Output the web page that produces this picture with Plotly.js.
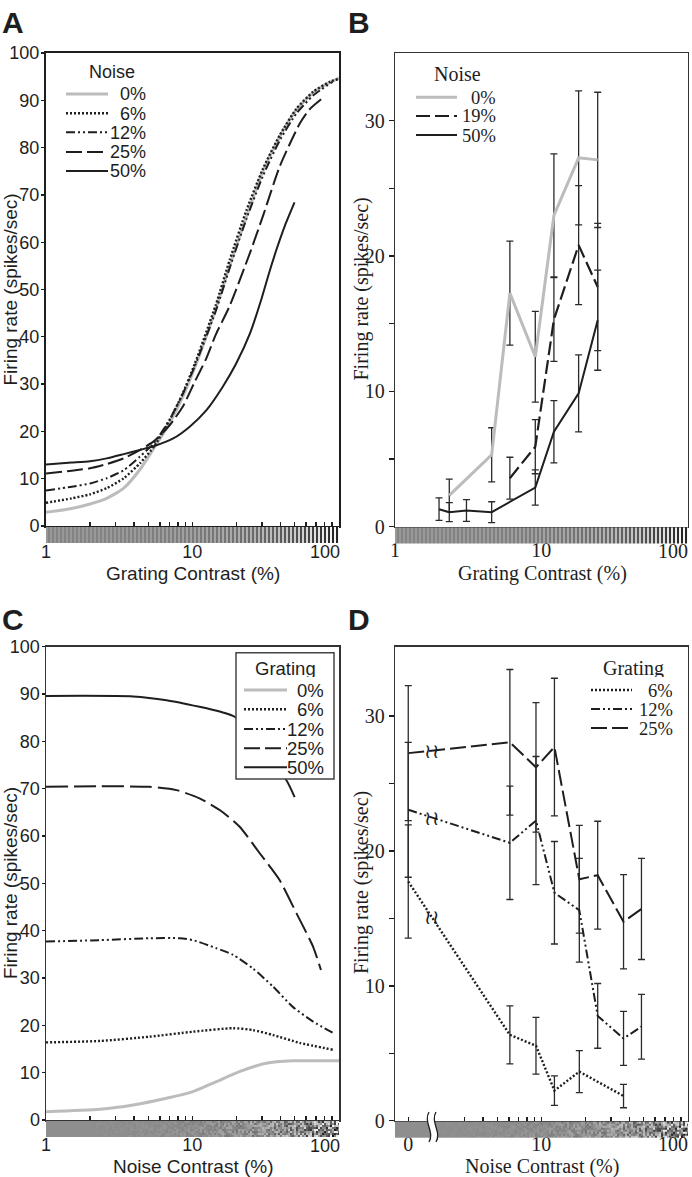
<!DOCTYPE html>
<html><head><meta charset="utf-8">
<script src="https://cdn.plot.ly/plotly-3.0.1.min.js"></script>
<style>html,body{margin:0;padding:0;background:#fff}#chart{width:692px;height:1177px}</style>
</head><body><div id="chart"></div>
<script>
// ---------- Panel A: model fits, firing rate vs grating contrast, per noise level ----------
const aX0  = [1,1.5,2,2.6,3.4,4.4,5.5,7,8.6,10.4,14.5,18,23.5,30.4,39.6,51.5,67,87,101];
const aY0  = [2.9,3.7,4.65,5.85,8.0,12.0,16.6,21.8,27.3,33.5,46,55,65.5,75,82.3,88,91.6,93.8,94.7];
const aX6  = [1,1.5,2,2.6,3.4,4.4,5.5,7,8.6,10.4,14.5,18,23.5,30.4,39.6,51.5,67,87,100];
const aY6  = [4.9,5.85,6.7,8.0,10.1,13.3,16.9,22.4,28.0,34.3,46.8,56.2,66.8,75.5,82.6,88.2,91.8,93.9,94.5];
const aX12 = [1,1.5,2,2.6,3.4,4.4,5.5,7,8.6,10.4,14.5,18,23.5,30.4,39.6,51.5,67,91];
const aY12 = [7.5,8.3,9.0,10.1,11.8,14.7,17.6,22.5,27.9,33.8,45.5,54.5,65,74,81.5,87.2,91,93.9];
const aX25 = [1,1.5,2,2.6,3.4,4.4,5.5,7,8.6,10.4,12.5,14.5,18,24.7,30.4,39.6,54.3,63,76];
const aY25 = [11.1,11.7,12.2,13.1,14.3,16.1,18.0,21.3,25.2,30.5,35.5,40.5,46.5,57.6,65.5,76,85.1,88,90.2];
const aX50 = [1,1.5,2,2.6,3.4,4.4,5.5,7.4,9.6,12.5,16.2,20,24.8,29.7,33.5,37.7,43,50];
const aY50 = [13.0,13.4,13.7,14.3,15.2,16.1,16.9,18.5,21.0,24.5,29.5,34.4,40.7,48,53.5,58.5,63.5,68.4];
const aLegend = ['0%','6%','12%','25%','50%'];

// ---------- Panel B: measured responses vs grating contrast ----------
const bX0  = [2.35,4.58,6.1,9.1,12.2,18.0,24.3];
const bY0  = [2.3,5.3,17.25,12.55,23.0,27.25,27.1];
const bE0  = [1.2,2.0,3.85,3.35,4.55,4.95,5.0];
const bX19 = [6.1,9.1,12.2,18.0,24.3];
const bY19 = [3.57,5.9,15.3,20.8,17.7];
const bE19 = [1.55,2.0,3.1,4.4,4.7];
const bX50 = [2.0,2.35,3.08,4.58,9.1,12.2,18.0,24.3];
const bY50 = [1.28,1.06,1.18,1.06,2.88,7.0,9.84,15.25];
const bE50 = [0.83,0.7,0.8,0.77,1.3,2.3,2.85,3.7];
const bLegend = ['0%','19%','50%'];

// ---------- Panel C: model fits, firing rate vs noise contrast, per grating level ----------
const cX0  = [1,2.34,3.94,6.67,10.1,14.6,21,32,48.7,101];
const cY0  = [1.76,2.26,3.17,4.58,5.98,8.1,10.2,12.0,12.5,12.5];
const cX6  = [1,2.34,5.1,10.1,19,26,35.6,54.2,93];
const cY6  = [16.4,16.7,17.6,18.65,19.4,19.0,17.95,16.3,14.8];
const cX12 = [1,2.34,5.1,8.2,10.1,14.6,19,26,35.6,48.7,67,93];
const cY12 = [37.7,38.0,38.4,38.4,38.0,36.3,34.9,32.0,28.2,23.9,20.8,18.3];
const cX25 = [1,2.34,5.1,7.8,11.2,15.4,21,29,39.5,51.5,67,75.8];
const cY25 = [70.4,70.5,70.4,69.7,67.95,65.5,62,56.3,50.7,43.7,36.6,31.7];
const cX50 = [1,3.94,6.67,11.2,15.4,19.5,44,50.1];
const cY50 = [89.6,89.5,88.7,87.3,86.3,85.2,71.8,68.2];
const cLegend = ['0%','6%','12%','25%','50%'];

// ---------- Panel D: measured responses vs noise contrast ----------
const dNoise   = [0,6.1,9.2,12.3,18.2,24.3,36.5,48.4];
const dY25     = [27.25,28.05,26.2,27.7,17.9,18.2,14.75,15.7];
const dE25     = [5,5.4,4.8,5.1,4,4,3.5,3.75];
const dY12     = [23.05,20.6,22.25,16.9,15.6,7.77,6.1,6.97];
const dE12     = [5,4.2,4.75,3.8,3.85,2.4,2.0,2.4];
const dNoise6  = [0,6.1,9.2,12.3,18.2,36.5];
const dY6      = [17.73,6.36,5.56,2.23,3.64,1.83];
const dE6      = [4.2,2.15,2.1,1.1,1.56,0.87];
const dLegend  = ['6%','12%','25%'];

// tick labels (the "100" label at the right edge is set as an annotation so it is not cut off)
const logTickVals = [1,2,3,4,5,6,7,8,9,10,20,30,40,50,60,70,80,90,100];
const logTickText = logTickVals.map(v => (v===1||v===10) ? String(v) : '');
const edgeLabel = '100';
const yTickVals100 = [0,10,20,30,40,50,60,70,80,90,100];
const yTickVals35 = [0,5,10,15,20,25,30];
const yTickText35 = ['0','','10','','20','','30'];
const zeroPos = 1.232;   // where the "0 %" noise point sits on the broken log axis
const breakPos = 1.79;   // location of the axis break symbol
const dTickVals = [zeroPos,3,4,5,6,7,8,9,10,20,30,40,50,60,70,80,90,100];
const dTickText = dTickVals.map(v => v===zeroPos ? '0' : (v===10) ? String(v) : '');

// ---------- helpers ----------
const W = 692, H = 1177;
const PX = v => v / W;
const PY = v => 1 - v / H;
const SANS = 'Liberation Sans, Arial, sans-serif';
const SERIF = 'Liberation Serif, Times New Roman, serif';
const INK = '#1e1e1e';
const GRAY = '#bcbcbc';

const sty = {
  g0:  {color: GRAY, width: 3, dash: 'solid'},
  dot: {color: INK, width: 2.4, dash: '2px,2px'},
  ddd: {color: INK, width: 2, dash: '9px,3px,2px,3px,2px,3px'},
  ld:  {color: INK, width: 2, dash: '16px,5px'},
  ldC: {color: INK, width: 2, dash: '22px,6px'},
  sol: {color: INK, width: 2, dash: 'solid'},
  dB:  {color: INK, width: 2.2, dash: '14px,5px'}
};

function line(x, y, xa, ya, st, extra) {
  return Object.assign({type: 'scatter', mode: 'lines', x: x, y: y, xaxis: xa, yaxis: ya,
    line: {color: st.color, width: st.width, dash: st.dash, shape: 'spline', smoothing: 0.6},
    hoverinfo: 'skip'}, extra || {});
}
function errLine(x, y, e, xa, ya, st) {
  return {type: 'scatter', mode: 'lines', x: x, y: y, xaxis: xa, yaxis: ya,
    line: {color: st.color, width: st.width, dash: st.dash},
    error_y: {type: 'data', array: e, visible: true, color: '#2a2a2a', thickness: 1.3, width: 3.5},
    hoverinfo: 'skip'};
}

const mapD = arr => arr.map(v => v === 0 ? zeroPos : v);

const traces = [
  line(aX0, aY0, 'x', 'y', sty.g0),
  line(aX6, aY6, 'x', 'y', sty.dot),
  line(aX12, aY12, 'x', 'y', sty.ddd),
  line(aX25, aY25, 'x', 'y', sty.ld),
  line(aX50, aY50, 'x', 'y', sty.sol),

  errLine(bX0, bY0, bE0, 'x2', 'y2', {color: GRAY, width: 3, dash: 'solid'}),
  errLine(bX19, bY19, bE19, 'x2', 'y2', sty.dB),
  errLine(bX50, bY50, bE50, 'x2', 'y2', sty.sol),

  line(cX0, cY0, 'x3', 'y3', sty.g0),
  line(cX6, cY6, 'x3', 'y3', sty.dot),
  line(cX12, cY12, 'x3', 'y3', sty.ddd),
  line(cX25, cY25, 'x3', 'y3', sty.ldC),
  line(cX50, cY50, 'x3', 'y3', sty.sol),

  errLine(mapD(dNoise), dY25, dE25, 'x4', 'y4', sty.ld),
  errLine(mapD(dNoise), dY12, dE12, 'x4', 'y4', sty.ddd),
  errLine(mapD(dNoise6), dY6, dE6, 'x4', 'y4', {color: INK, width: 2.4, dash: '2px,2px'})
];

// panel geometry (pixels)
const G = {
  A: {l: 46, r: 339, t: 53, b: 526},
  B: {l: 395, r: 688, t: 53, b: 526.5},
  C: {l: 46, r: 339, t: 646.7, b: 1120},
  D: {l: 395, r: 688, t: 646.7, b: 1120.7}
};

function xAxis(g, anchor, font, opts) {
  return Object.assign({
    type: 'log', domain: [PX(g.l), PX(g.r)], anchor: anchor,
    showline: true, mirror: true, linecolor: INK, linewidth: 2,
    showgrid: false, zeroline: false, fixedrange: true,
    ticks: 'inside', ticklen: 4, tickwidth: 1.4, tickcolor: INK,
    tickvals: logTickVals, ticktext: logTickText,
    ticklabelstandoff: 8,
    tickfont: {family: font, size: 18, color: INK}
  }, opts || {});
}
function yAxis(g, anchor, font, opts) {
  return Object.assign({
    domain: [PY(g.b), PY(g.t)], anchor: anchor,
    showline: true, mirror: true, linecolor: INK, linewidth: 2,
    showgrid: false, zeroline: false, fixedrange: true,
    ticks: 'outside', ticklen: 3, tickwidth: 1.4, tickcolor: INK,
    ticklabelstandoff: -2,
    tickfont: {family: font, size: 18, color: INK}
  }, opts || {});
}

// ---------- decorative stimulus bars (grating / noise) ----------
function hash(i, j) {
  let h = Math.imul(i, 374761393) + Math.imul(j, 668265263) | 0;
  h = Math.imul(h ^ (h >>> 13), 1274126177);
  h = h ^ (h >>> 16);
  return ((h >>> 0) % 10007) / 10007;
}
function barImage(kind, w, h) {
  const cv = document.createElement('canvas');
  cv.width = w; cv.height = h;
  const ctx = cv.getContext('2d');
  const img = ctx.createImageData(w, h);
  for (let i = 0; i < w; i++) {
    const c = Math.pow(10, 2 * i / w);
    for (let j = 0; j < h; j++) {
      let v;
      if (kind === 'grating') {
        const amp = Math.min(105, 9 + 1.05 * c);
        v = 142 + ((i % 4) < 2 ? amp : -amp);
      } else {
        const amp = c < 2 ? 0 : 135 * (c / 100);
        const r = hash(Math.floor(i / 2), Math.floor(j / 2)) * 2 - 1;
        v = 142 + amp * r;
      }
      v = Math.max(10, Math.min(245, v));
      const k = 4 * (j * w + i);
      img.data[k] = v; img.data[k + 1] = v; img.data[k + 2] = v; img.data[k + 3] = 255;
    }
  }
  ctx.putImageData(img, 0, 0);
  return cv.toDataURL('image/png');
}
function barLayout(g, src) {
  return {source: src, xref: 'paper', yref: 'paper', x: PX(g.l), y: PY(g.b + 1),
    sizex: (g.r - g.l) / W, sizey: 16 / H, xanchor: 'left', yanchor: 'top',
    sizing: 'stretch', layer: 'above'};
}
const images = [
  barLayout(G.A, barImage('grating', 293, 16)),
  barLayout(G.B, barImage('grating', 293, 16)),
  barLayout(G.C, barImage('noise', 293, 16)),
  barLayout(G.D, barImage('noise', 293, 16))
];

// ---------- text & legends ----------
const ann = [];
const shapes = [];
function txt(x, y, s, font, size, extra) {
  ann.push(Object.assign({xref: 'paper', yref: 'paper', x: PX(x), y: PY(y), text: s, showarrow: false,
    xanchor: 'center', yanchor: 'middle', font: {family: font, size: size, color: INK}}, extra || {}));
}
function sample(x0, x1, y, st) {
  shapes.push({type: 'line', xref: 'paper', yref: 'paper', x0: PX(x0), x1: PX(x1), y0: PY(y), y1: PY(y),
    line: {color: st.color, width: st.width, dash: st.dash}, layer: 'above'});
}
const legTxt = {xanchor: 'right', height: 17, borderpad: 0, valign: 'middle'};

// panel letters
txt(0, 22, '<b>A</b>', SANS, 30, {xanchor: 'left'});
txt(346, 22, '<b>B</b>', SANS, 30, {xanchor: 'left'});
txt(0, 619, '<b>C</b>', SANS, 30, {xanchor: 'left'});
txt(346, 619, '<b>D</b>', SANS, 30, {xanchor: 'left'});

// axis titles
txt(10, 289.5, 'Firing rate (spikes/sec)', SANS, 19, {textangle: -90});
txt(193, 573, 'Grating Contrast (%)', SANS, 19);
txt(361, 289.5, 'Firing rate (spikes/sec)', SERIF, 20, {textangle: -90});
txt(542, 573.5, 'Grating Contrast (%)', SERIF, 20);
txt(10, 883, 'Firing rate (spikes/sec)', SANS, 19, {textangle: -90});
txt(193, 1166, 'Noise Contrast (%)', SANS, 19);
txt(361, 883, 'Firing rate (spikes/sec)', SERIF, 20, {textangle: -90});
txt(542, 1166.5, 'Noise Contrast (%)', SERIF, 20);

// right-edge "100" tick labels, aligned to the 100 tick of each log axis
function edge(xa, y, font, size, shift) {
  ann.push({xref: xa, yref: 'paper', x: 2, y: PY(y), text: edgeLabel, showarrow: false,
    xanchor: 'right', yanchor: 'middle', xshift: shift, font: {family: font, size: size, color: INK}});
}
edge('x', 552, SANS, 18, 3);
edge('x2', 550.5, SERIF, 20, 2);
edge('x3', 1146, SANS, 18, 3);
edge('x4', 1143.5, SERIF, 20, 2);

// legend A
txt(112, 72, 'Noise', SANS, 18);
const aRows = [94, 113.3, 132.3, 152, 171];
const aSty = [sty.g0, sty.dot, sty.ddd, sty.ld, sty.sol];
aLegend.forEach((s, i) => { sample(66, 108, aRows[i], aSty[i]); txt(147, aRows[i], s, SANS, 18, legTxt); });

// legend B
txt(457, 74, 'Noise', SERIF, 20, {height: 18, borderpad: 0});
const bRows = [97.3, 116, 135];
const bSty = [sty.g0, sty.dB, sty.sol];
bLegend.forEach((s, i) => { sample(416, 457, bRows[i], bSty[i]); txt(497, bRows[i], s, SERIF, 18.5, legTxt); });

// legend C (boxed, opaque)
shapes.push({type: 'rect', xref: 'paper', yref: 'paper', x0: PX(236), x1: PX(334), y0: PY(779), y1: PY(652.7),
  fillcolor: '#ffffff', line: {color: '#444', width: 1.5}, layer: 'above'});
txt(285, 667.7, 'Grating', SANS, 18.5, {height: 18, borderpad: 0});
const cRows = [690, 709.3, 729, 748.3, 767.3];
const cSty = [sty.g0, sty.dot, sty.ddd, sty.ld, sty.sol];
cLegend.forEach((s, i) => { sample(244, 287, cRows[i], cSty[i]); txt(325, cRows[i], s, SANS, 18.5, legTxt); });

// legend D
txt(633.5, 668, 'Grating', SERIF, 20, {height: 18, borderpad: 0});
const dRows = [690, 709, 728];
const dSty = [sty.dot, sty.ddd, sty.ld];
dLegend.forEach((s, i) => { sample(591, 632, dRows[i], dSty[i]); txt(674, dRows[i], s, SERIF, 18.5, legTxt); });

// axis break on panel D x-axis
const brk = {xref: 'paper', yref: 'paper', xsizemode: 'pixel', ysizemode: 'pixel',
  xanchor: PX(432), yanchor: PY(1127), layer: 'above'};
shapes.push(Object.assign({type: 'path', path: 'M -3 15 C -9 5 3 -5 -3 -15 L 4 -15 C 10 -5 -2 5 4 15 Z',
  fillcolor: '#ffffff', line: {width: 0}}, brk));
shapes.push(Object.assign({type: 'path', path: 'M -3 15 C -9 5 3 -5 -3 -15', line: {color: INK, width: 1.3}}, brk));
shapes.push(Object.assign({type: 'path', path: 'M 4 15 C -2 5 10 -5 4 -15', line: {color: INK, width: 1.3}}, brk));

// break marks on panel D lines (placed on the segment between the 0% point and the first noise point)
function breakMark(noiseArr, yArr) {
  const l0 = Math.log10(zeroPos), l1 = Math.log10(noiseArr[1]), lb = Math.log10(breakPos);
  const t = (lb - l0) / (l1 - l0);
  const y = yArr[0] + t * (yArr[1] - yArr[0]);
  ann.push({xref: 'x4', yref: 'y4', x: lb, y: y, text: '≀≀', showarrow: false,
    font: {family: 'DejaVu Serif, serif', size: 20, color: INK}, xanchor: 'center', yanchor: 'middle'});
}
breakMark(dNoise, dY25);
breakMark(dNoise, dY12);
breakMark(dNoise6, dY6);

const layout = {
  width: W, height: H, margin: {l: 0, r: 0, t: 0, b: 0},
  paper_bgcolor: '#ffffff', plot_bgcolor: '#ffffff', showlegend: false, hovermode: false,
  xaxis: xAxis(G.A, 'y', SANS, {range: [0, 2.003]}),
  yaxis: yAxis(G.A, 'x', SANS, {range: [0, 100], tickvals: yTickVals100}),
  xaxis2: xAxis(G.B, 'y2', SERIF, {range: [0, 2.003], ticks: '', linewidth: 1.3, linecolor: '#333',
    ticklabelstandoff: 5, tickvals: [1, 10, 100], ticktext: ['1', '10', ''], tickfont: {family: SERIF, size: 20, color: INK}}),
  yaxis2: yAxis(G.B, 'x2', SERIF, {range: [0, 35], tickvals: yTickVals35, ticktext: yTickText35, ticklen: 5,
    ticklabelstandoff: 0, linewidth: 1.3, linecolor: '#333', tickfont: {family: SERIF, size: 20, color: INK}}),
  xaxis3: xAxis(G.C, 'y3', SANS, {range: [0, 2.003], linewidth: 1.5, linecolor: '#333'}),
  yaxis3: yAxis(G.C, 'x3', SANS, {range: [0, 100], tickvals: yTickVals100, linewidth: 1.5, linecolor: '#333'}),
  xaxis4: xAxis(G.D, 'y4', SERIF, {range: [0, 2.003], linewidth: 1.3, linecolor: '#333',
    ticklabelstandoff: 5, tickvals: dTickVals, ticktext: dTickText, tickfont: {family: SERIF, size: 20, color: INK}}),
  yaxis4: yAxis(G.D, 'x4', SERIF, {range: [0, 35.14], tickvals: yTickVals35, ticktext: yTickText35, ticklen: 5,
    ticklabelstandoff: 0, linewidth: 1.3, linecolor: '#333', tickfont: {family: SERIF, size: 20, color: INK}}),
  shapes: shapes, annotations: ann, images: images
};

Plotly.newPlot('chart', traces, layout, {staticPlot: true, displayModeBar: false});
</script>
</body></html>
